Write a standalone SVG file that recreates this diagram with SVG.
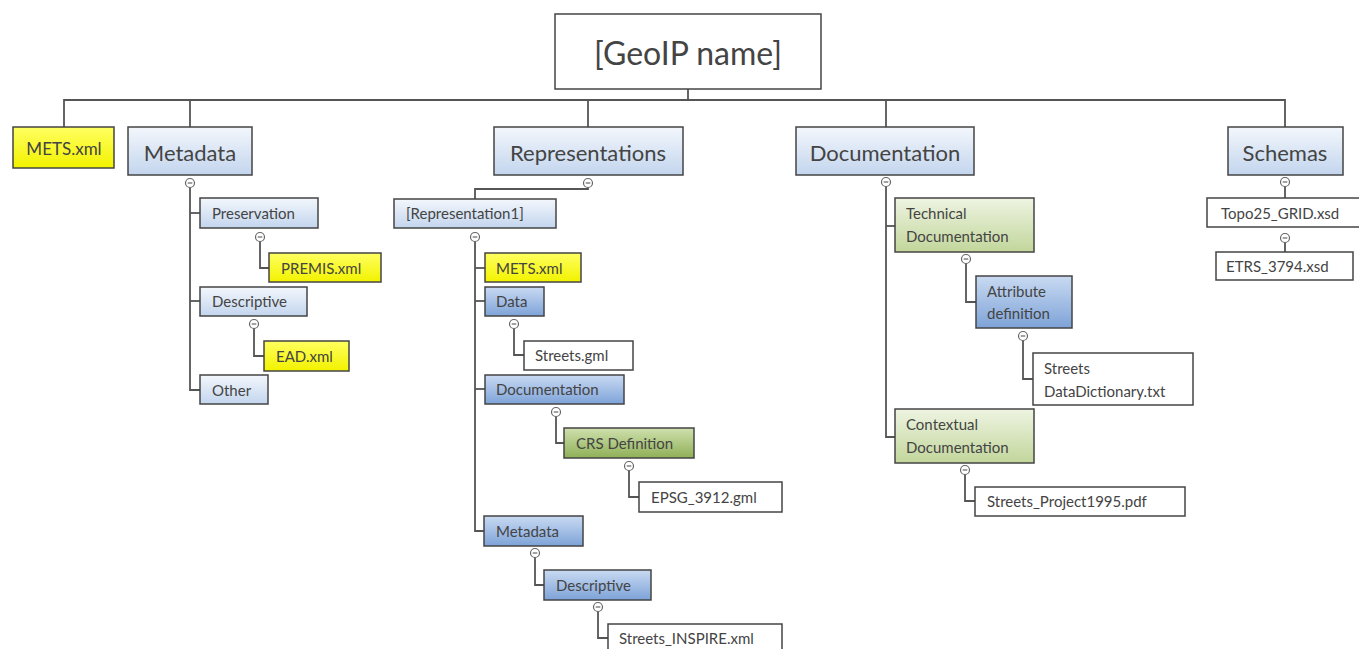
<svg xmlns="http://www.w3.org/2000/svg" width="1359" height="649" viewBox="0 0 1359 649">
<defs>
<linearGradient id="gLB" x1="0" y1="0" x2="0" y2="1"><stop offset="0" stop-color="#f3f7fc"/><stop offset="1" stop-color="#c3d5ee"/></linearGradient>
<linearGradient id="gMB" x1="0" y1="0" x2="0" y2="1"><stop offset="0" stop-color="#c9daf2"/><stop offset="1" stop-color="#7ea3d8"/></linearGradient>
<linearGradient id="gLG" x1="0" y1="0" x2="0" y2="1"><stop offset="0" stop-color="#eef4e2"/><stop offset="1" stop-color="#c2d69b"/></linearGradient>
<linearGradient id="gDG" x1="0" y1="0" x2="0" y2="1"><stop offset="0" stop-color="#cfe0ad"/><stop offset="1" stop-color="#8fb057"/></linearGradient>
<linearGradient id="gYL" x1="0" y1="0" x2="0" y2="1"><stop offset="0" stop-color="#ffff60"/><stop offset="1" stop-color="#f2f200"/></linearGradient>
<g id="tog"><circle r="4.5" fill="#fff" stroke="#666" stroke-width="1.2"/><line x1="-2.3" y1="0" x2="2.3" y2="0" stroke="#666" stroke-width="1.2"/></g>
</defs>
<style>
.n rect{stroke:#444;stroke-width:1.5}
.lb{fill:url(#gLB)}.mb{fill:url(#gMB)}.lg{fill:url(#gLG)}.dg{fill:url(#gDG)}.yl{fill:url(#gYL)}.wh{fill:#fff}
text{font-family:Lato,"Open Sans","Liberation Sans",sans-serif;fill:#444;dominant-baseline:central}
.s{font-size:15px}.m{font-size:17px}.l{font-size:22px}.c{text-anchor:middle}
.cn{fill:none;stroke:#555;stroke-width:1.8}
</style>
<rect width="1359" height="649" fill="#fff"/>
<g id="connectors">
<polyline class="cn" points="688,89 688,100"/>
<polyline class="cn" points="64,127 64,100 1285,100 1285,127"/>
<polyline class="cn" points="190,100 190,127"/>
<polyline class="cn" points="588,100 588,127"/>
<polyline class="cn" points="886,100 886,127"/>
<polyline class="cn" points="190,187 190,390 200,390"/>
<polyline class="cn" points="190,213 200,213"/>
<polyline class="cn" points="190,301 200,301"/>
<polyline class="cn" points="260,241 260,268 269,268"/>
<polyline class="cn" points="254,328 254,356 264,356"/>
<polyline class="cn" points="588,187 588,189 475,189 475,199"/>
<polyline class="cn" points="475,241 475,531 484,531"/>
<polyline class="cn" points="475,268 485,268"/>
<polyline class="cn" points="475,301 485,301"/>
<polyline class="cn" points="475,389 485,389"/>
<polyline class="cn" points="514,328 514,355 524,355"/>
<polyline class="cn" points="556,416 556,443 564,443"/>
<polyline class="cn" points="629,470 629,497 639,497"/>
<polyline class="cn" points="535,557 535,585 544,585"/>
<polyline class="cn" points="598,611 598,638 608,638"/>
<polyline class="cn" points="886,186 886,437 895,437"/>
<polyline class="cn" points="886,226 895,226"/>
<polyline class="cn" points="966,263 966,302 976,302"/>
<polyline class="cn" points="1023,340 1023,379 1033,379"/>
<polyline class="cn" points="965,474 965,501 975,501"/>
<polyline class="cn" points="1285,186 1285,198"/>
<polyline class="cn" points="1285,242 1285,252"/>
<use href="#tog" x="190" y="183"/>
<use href="#tog" x="588" y="183"/>
<use href="#tog" x="886" y="182"/>
<use href="#tog" x="1285" y="182"/>
<use href="#tog" x="260" y="237"/>
<use href="#tog" x="254" y="324"/>
<use href="#tog" x="475" y="237"/>
<use href="#tog" x="514" y="324"/>
<use href="#tog" x="556" y="412"/>
<use href="#tog" x="629" y="466"/>
<use href="#tog" x="535" y="553"/>
<use href="#tog" x="598" y="607"/>
<use href="#tog" x="966" y="259"/>
<use href="#tog" x="1023" y="336"/>
<use href="#tog" x="965" y="470"/>
<use href="#tog" x="1285" y="238"/>
</g>
<g id="root" class="n"><rect class="wh" x="555" y="14" width="266" height="75"/><text x="688" y="52" class="c" style="font-size:32px">[GeoIP name]</text></g>
<g id="mets-top" class="n"><rect class="yl" x="13" y="127" width="101" height="41"/><text class="m c" x="64" y="148">METS.xml</text></g>
<g id="metadata" class="n"><rect class="lb" x="128" y="127" width="124" height="48"/><text class="l c" x="190" y="152">Metadata</text></g>
<g id="representations" class="n"><rect class="lb" x="494" y="127" width="189" height="48"/><text class="l c" x="588" y="152">Representations</text></g>
<g id="documentation" class="n"><rect class="lb" x="796" y="127" width="178" height="48"/><text class="l c" x="885" y="152">Documentation</text></g>
<g id="schemas" class="n"><rect class="lb" x="1228" y="127" width="115" height="48"/><text class="l c" x="1285" y="152">Schemas</text></g>
<g id="preservation" class="n"><rect class="lb" x="200" y="198" width="118" height="30"/><text class="s" x="212" y="213">Preservation</text></g>
<g id="premis" class="n"><rect class="yl" x="269" y="253" width="112" height="29"/><text class="s" x="281" y="268">PREMIS.xml</text></g>
<g id="descriptive" class="n"><rect class="lb" x="200" y="287" width="107" height="29"/><text class="s" x="212" y="301">Descriptive</text></g>
<g id="ead" class="n"><rect class="yl" x="264" y="341" width="85" height="30"/><text class="s" x="276" y="356">EAD.xml</text></g>
<g id="other" class="n"><rect class="lb" x="200" y="375" width="68" height="29"/><text class="s" x="212" y="390">Other</text></g>
<g id="rep1" class="n"><rect class="lb" x="394" y="199" width="162" height="29"/><text class="s" x="406" y="213">[Representation1]</text></g>
<g id="rep-mets" class="n"><rect class="yl" x="485" y="253" width="96" height="29"/><text class="s" x="496" y="268">METS.xml</text></g>
<g id="rep-data" class="n"><rect class="mb" x="485" y="287" width="59" height="29"/><text class="s" x="496" y="301">Data</text></g>
<g id="streets-gml" class="n"><rect class="wh" x="524" y="341" width="109" height="29"/><text class="s" x="535" y="355">Streets.gml</text></g>
<g id="rep-doc" class="n"><rect class="mb" x="485" y="375" width="139" height="29"/><text class="s" x="496" y="389">Documentation</text></g>
<g id="crs" class="n"><rect class="dg" x="564" y="428" width="130" height="30"/><text class="s" x="576" y="443">CRS Definition</text></g>
<g id="epsg" class="n"><rect class="wh" x="639" y="482" width="143" height="30"/><text class="s" x="651" y="497">EPSG_3912.gml</text></g>
<g id="rep-meta" class="n"><rect class="mb" x="484" y="516" width="99" height="30"/><text class="s" x="496" y="531">Metadata</text></g>
<g id="rep-desc" class="n"><rect class="mb" x="544" y="570" width="107" height="30"/><text class="s" x="556" y="585">Descriptive</text></g>
<g id="inspire" class="n"><rect class="wh" x="608" y="624" width="174" height="40"/><text class="s" x="619" y="638">Streets_INSPIRE.xml</text></g>
<g id="techdoc" class="n"><rect class="lg" x="895" y="198" width="139" height="54"/><text class="s" x="906" y="213">Technical</text><text class="s" x="906" y="236">Documentation</text></g>
<g id="attrdef" class="n"><rect class="mb" x="976" y="276" width="96" height="52"/><text class="s" x="987" y="291">Attribute</text><text class="s" x="987" y="313">definition</text></g>
<g id="datadict" class="n"><rect class="wh" x="1033" y="353" width="160" height="52"/><text class="s" x="1044" y="368">Streets</text><text class="s" x="1044" y="391">DataDictionary.txt</text></g>
<g id="contextdoc" class="n"><rect class="lg" x="895" y="409" width="139" height="54"/><text class="s" x="906" y="424">Contextual</text><text class="s" x="906" y="447">Documentation</text></g>
<g id="project" class="n"><rect class="wh" x="975" y="487" width="210" height="29"/><text class="s" x="987" y="501">Streets_Project1995.pdf</text></g>
<g id="topo" class="n"><rect class="wh" x="1207" y="198" width="160" height="29"/><text class="s" x="1221" y="213">Topo25_GRID.xsd</text></g>
<g id="etrs" class="n"><rect class="wh" x="1216" y="252" width="137" height="28"/><text class="s" x="1226" y="266">ETRS_3794.xsd</text></g>
</svg>
